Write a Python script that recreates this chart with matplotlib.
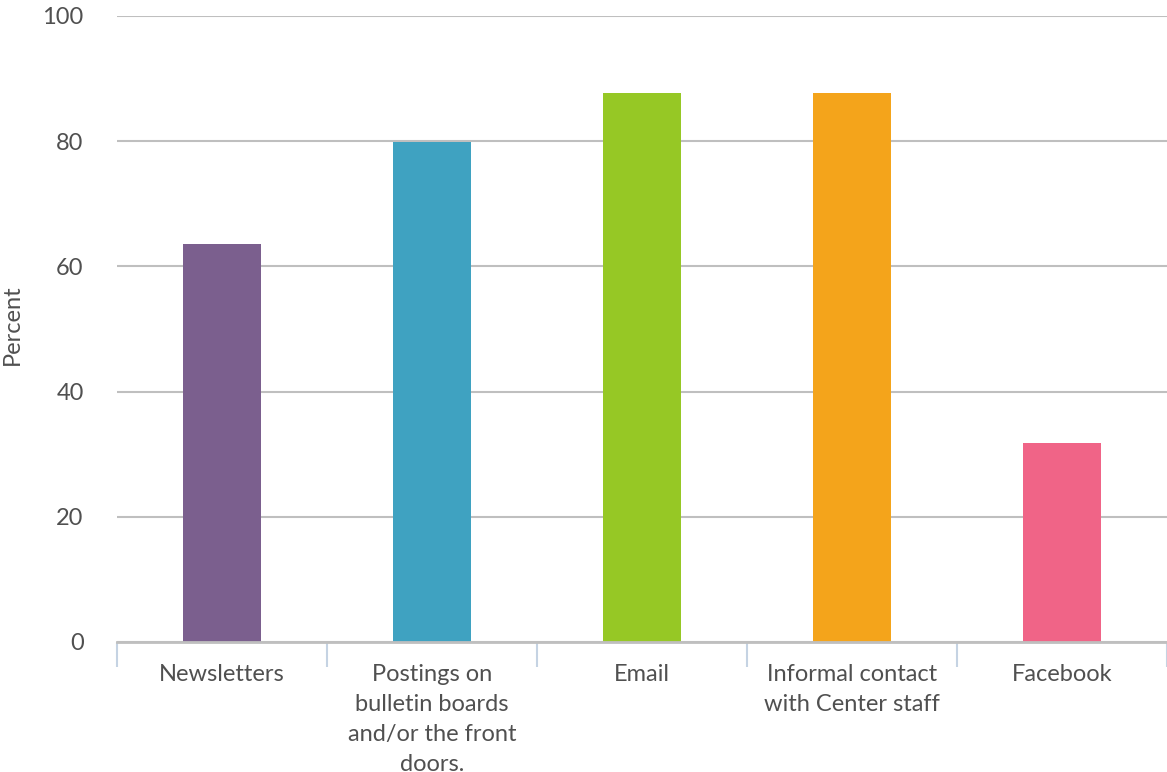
import matplotlib
matplotlib.use("Agg")
import matplotlib.pyplot as plt

categories = ["Newsletters",
              "Postings on\nbulletin boards\nand/or the front\ndoors.",
              "Email",
              "Informal contact\nwith Center staff",
              "Facebook"]
percent = [63.6, 79.9, 87.7, 87.7, 31.8]
colors = ["#7b5f8e", "#3fa2c1", "#96c825", "#f4a41b", "#f06487"]
yticks = [0, 20, 40, 60, 80, 100]

plt.rcParams['font.family'] = ['Lato', 'DejaVu Sans']
txt = "#505050"
fs = 17

fig = plt.figure(figsize=(11.67, 7.72), dpi=100)
ax = fig.add_axes([117/1167, 130/772, 1 - 117/1167, 626/772])

x = range(len(categories))
ax.bar(x, percent, width=0.37, color=colors, zorder=3)

ax.set_xlim(-0.5, len(categories) - 0.5)
ax.set_ylim(0, 100)
ax.set_yticks(yticks)
ax.yaxis.grid(True, color="#bfbfbf", linewidth=1.5, zorder=0)
ax.tick_params(axis='y', length=0, pad=24, labelsize=fs, labelcolor=txt)

ax.set_xticks(list(x))
ax.set_xticklabels(categories, fontsize=fs, color=txt, linespacing=1.52, va='top')
ax.set_xticks([i - 0.5 for i in range(len(categories) + 1)], minor=True)
ax.tick_params(axis='x', which='major', length=0, pad=16)
ax.tick_params(axis='x', which='minor', length=18, width=1.5, color="#c5d3e3")

for s in ['top', 'right', 'left']:
    ax.spines[s].set_visible(False)
ax.spines['bottom'].set_color("#bfbfbf")
ax.spines['bottom'].set_linewidth(2)
ax.spines['bottom'].set_zorder(4)

fig.text(12/1167, 1 - 325/772, "Percent", rotation=90, fontsize=fs,
         color=txt, ha='center', va='center')

fig.savefig("out.png", dpi=100)
